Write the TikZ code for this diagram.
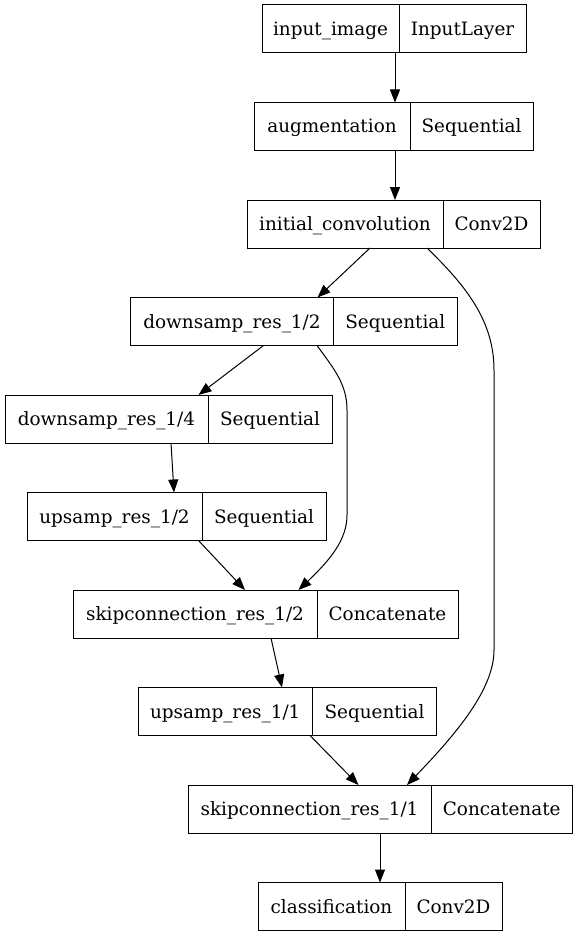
\documentclass[tikz,border=0pt]{standalone}
\usepackage{fontspec}
\setmainfont{DejaVu Serif}
\usetikzlibrary{arrows.meta}
\tikzset{
  cell/.style={draw=black, line width=1pt, inner sep=0pt, outer sep=0pt,
    minimum height=48pt, text height=17pt, text depth=4pt,
    font=\fontsize{18.4}{22}\selectfont, anchor=north west},
  edge/.style={draw=black, line width=1pt, -{Triangle[length=13pt,width=10pt]}}
}
\newcommand\layerbox[7]{%
  \node[cell, minimum width={#3-#2}] (#1-l) at (#2,#5) {#6};
  \node[cell, minimum width={#4-#3}] (#1-r) at (#3,#5) {#7};
}
\begin{document}
\begin{tikzpicture}[x=1pt,y=-1pt]
\useasboundingbox[fill=white] (0,0) rectangle (578,936);
\layerbox{in}{262}{399}{526}{5}{input\_image}{InputLayer}
\layerbox{aug}{254}{410}{533}{102.5}{augmentation}{Sequential}
\layerbox{ic}{247}{443}{540}{200}{initial\_convolution}{Conv2D}
\layerbox{dsa}{130.5}{333.5}{457}{297.5}{downsamp\_res\_1/2}{Sequential}
\layerbox{dsb}{5}{208}{332}{395}{downsamp\_res\_1/4}{Sequential}
\layerbox{usa}{27}{202}{326}{492.5}{upsamp\_res\_1/2}{Sequential}
\layerbox{ska}{73}{317}{458}{590}{skipconnection\_res\_1/2}{Concatenate}
\layerbox{usb}{138}{312.5}{436.5}{687.5}{upsamp\_res\_1/1}{Sequential}
\layerbox{skb}{188}{431}{572.5}{785}{skipconnection\_res\_1/1}{Concatenate}
\layerbox{cls}{258}{405}{502}{882.5}{classification}{Conv2D}

\draw[edge] ([xshift=133pt]in-l.south west) -- ([xshift=141pt]aug-l.north west);
\draw[edge] ([xshift=141pt]aug-l.south west) -- ([xshift=148pt]ic-l.north west);
\draw[edge] ([xshift=123pt]ic-l.south west) -- ([xshift=187pt]dsa-l.north west);
\draw[edge] ([xshift=180pt]ic-l.south west) .. controls (465,285) and (494,320) .. (494,370)
   -- (494,650) .. controls (494,690) and (455,735) .. ([xshift=219pt]skb-l.north west);
\draw[edge] ([xshift=133pt]dsa-l.south west) -- ([xshift=193.5pt]dsb-l.north west);
\draw[edge] ([xshift=186.5pt]dsa-l.south west) .. controls (335,370) and (347,385) .. (347,410)
   -- (347,515) .. controls (347,540) and (330,560) .. ([xshift=225.5pt]ska-l.north west);
\draw[edge] ([xshift=166pt]dsb-l.south west) -- ([xshift=147pt]usa-l.north west);
\draw[edge] ([xshift=171.5pt]usa-l.south west) -- ([xshift=172pt]ska-l.north west);
\draw[edge] ([xshift=198pt]ska-l.south west) -- ([xshift=144pt]usb-l.north west);
\draw[edge] ([xshift=172pt]usb-l.south west) -- ([xshift=170.5pt]skb-l.north west);
\draw[edge] ([xshift=192pt]skb-l.south west) -- ([xshift=122pt]cls-l.north west);
\end{tikzpicture}
\end{document}
